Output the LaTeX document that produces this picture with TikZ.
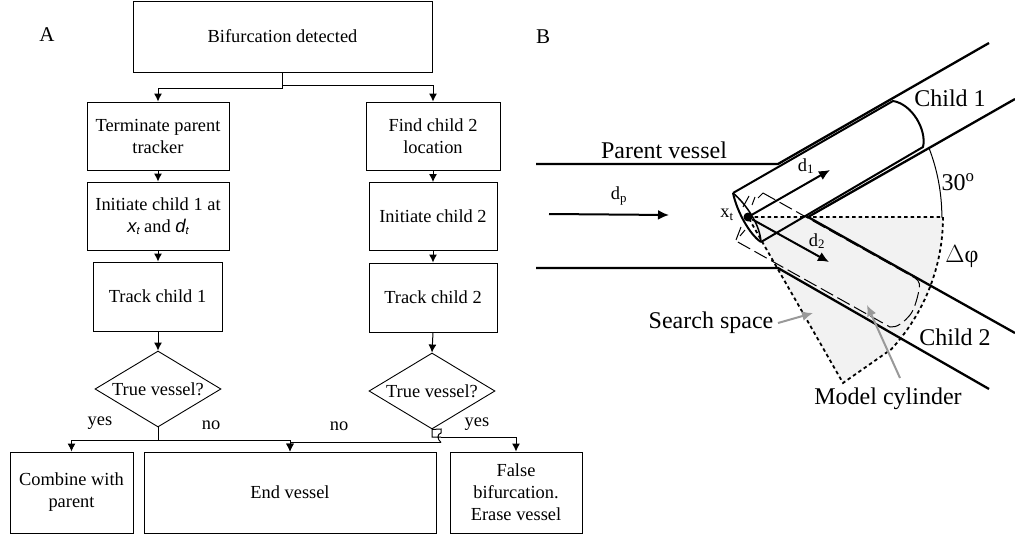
\documentclass[tikz,border=0pt]{standalone}
\usepackage{fontspec}
\setmainfont{Liberation Serif}
\newfontfamily\arialfont{Liberation Sans}
\usetikzlibrary{shapes.geometric,arrows.meta}
\tikzset{
  flowbox/.style={draw,line width=0.9pt,inner sep=0pt,align=center,font=\fontsize{18.4}{22}\selectfont},
  flowtest/.style={draw,diamond,shape aspect=1.65,line width=0.9pt,inner sep=0pt,minimum width=126pt,minimum height=76pt,font=\fontsize{18.4}{22}\selectfont},
  flowlabel/.style={inner sep=0pt,font=\fontsize{18.4}{22}\selectfont},
  flowline/.style={line width=1pt},
  flowarrow/.style={line width=1pt,-{Latex[length=8pt,width=8pt]}},
  panellabel/.style={inner sep=0pt,font=\fontsize{21}{24}\selectfont},
  vessellabel/.style={inner sep=0pt,font=\fontsize{24}{28}\selectfont},
  vecline/.style={line width=2pt,-{Latex[length=11pt,width=10pt]}},
  wall/.style={line width=2.3pt},
  dotline/.style={line width=1.8pt,dash pattern=on 3.5pt off 3pt},
  modelline/.style={line width=1pt,dash pattern=on 14pt off 5pt},
  pointer/.style={line width=2pt,color=gray!80,-{Latex[length=11pt,width=10pt]}}
}
\newcommand{\xsub}[1]{{\arialfont\itshape #1\raisebox{-0.25ex}{\fontsize{11}{11}\selectfont t}}}
\begin{document}
\begin{tikzpicture}[x=1pt,y=-1pt]
\useasboundingbox (0,0) rectangle (1015,535);
%A
\node[panellabel] (labelA) at (47,35) {A};
\node[flowbox,minimum width=299pt,minimum height=71pt] (detected) at (282.5,36.5) {Bifurcation detected};
\node[flowbox,minimum width=142pt,minimum height=68pt] (terminate) at (158,136) {Terminate parent\\tracker};
\node[flowbox,minimum width=142pt,minimum height=68pt] (initone) at (158,216) {Initiate child 1 at\\\xsub{x} and \xsub{d}};
\node[flowbox,minimum width=129pt,minimum height=69pt] (trackone) at (157.5,296.5) {Track child 1};
\node[flowtest] (testone) at (158,389) {True vessel?};
\node[flowbox,minimum width=134pt,minimum height=68pt] (findtwo) at (433,136) {Find child 2\\location};
\node[flowbox,minimum width=128pt,minimum height=68pt] (inittwo) at (433,216.5) {Initiate child 2};
\node[flowbox,minimum width=128pt,minimum height=69pt] (tracktwo) at (433,297.5) {Track child 2};
\node[flowtest] (testtwo) at (432,391) {True vessel?};
\node[flowbox,minimum width=123pt,minimum height=81pt] (combine) at (71.5,492.5) {Combine with\\parent};
\node[flowbox,minimum width=292pt,minimum height=81pt] (endvessel) at (290,492.5) {End vessel};
\node[flowbox,minimum width=132pt,minimum height=81pt] (falsebif) at (516,492.5) {False\\bifurcation.\\Erase vessel};
\node[flowlabel] (yesone) at (100,423) {yes};
\node[flowlabel] (noone) at (211,425) {no};
\node[flowlabel] (notwo) at (339,426) {no};
\node[flowlabel] (yestwo) at (477,424) {yes};
\coordinate (split) at (detected.south);
\draw[flowarrow] (split) -- ++(0,16) -| (terminate.north);
\draw[flowarrow] (split) -- ++(0,13) -| (findtwo.north);
\draw[flowarrow] (terminate) -- (initone);
\draw[flowarrow] (initone.south) -- (initone.south |- trackone.north);
\draw[flowarrow] (trackone.south -| testone.north) -- (testone.north);
\draw[flowarrow] (findtwo) -- (inittwo);
\draw[flowarrow] (inittwo) -- (tracktwo);
\draw[flowarrow] (tracktwo.south) -- (testtwo.north);
\coordinate (joinone) at (158,440);
\draw[flowline] (testone.south) -- (joinone);
\draw[flowarrow] (joinone) -| (combine.north);
\draw[flowarrow] (joinone) -| (endvessel.north);
\coordinate (hop) at (441,442.5);
\coordinate (hopout) at (441,437);
\draw[flowline] (testtwo.south) -- (432,437) -- (hopout) (testtwo.south) -- (441,429) -- (441,433) .. controls (437,434) and (437,439) .. (hop);
\draw[flowarrow] (hop) -| (endvessel.north);
\draw[flowarrow] (hopout) -| (falsebif.north);
%B
\node[panellabel] (labelB) at (543,37) {B};
\coordinate (xt) at (748,217);
\coordinate (fork) at (808,217);
\coordinate (partop) at (778,164);
\coordinate (parbot) at (778,268);
\coordinate (corner) at (843,383);
\fill[color=black!5] (xt) -- (943,217) arc[start angle=0,end angle=42.7,radius=195] -- (corner) -- cycle;
\draw[dotline] (xt) -- (943,217) arc[start angle=0,end angle=42.7,radius=195] -- (corner) -- cycle;
\draw[line width=1pt] (929,148) arc[start angle=-21,end angle=0,radius=194];
\draw[wall] (536,164) -- (partop) -- (989,43);
\draw[wall] (536,268) -- (parbot) -- (989,389);
\draw[wall] (1015,99) -- (fork) -- (1015,333);
%cylinder
\draw[line width=2pt] (733,193) -- (893,101) .. controls (912,104) and (927,130) .. (923,147) -- (761,242);
\draw[line width=2pt] (733,193) .. controls (737,212) and (750,235) .. (761,242);
\draw[line width=1.5pt] (733,193) .. controls (747,205) and (760,225) .. (761,242);
%model
\draw[modelline] (763,193) -- (915,278) .. controls (920,281) and (920,286) .. (919,290) .. controls (917,300) and (914,310) .. (910,315) .. controls (904,322) and (897,328) .. (890,327) -- (736,241);
\draw[line width=1pt] (763,193) -- (758,198) (755,197) -- (752,205) (749,196) -- (743,207);
\draw[line width=1pt] (741,227) -- (736,240) (745,230) -- (740,236);
\node[fill=black,circle,inner sep=0pt,minimum size=9pt] (xtdot) at (xt) {};
\coordinate (dpstart) at (549,214);
\coordinate (dpend) at (669,215);
\coordinate (donetip) at (830,170);
\coordinate (dtwotip) at (829,262);
\draw[vecline] (dpstart) -- (dpend);
\draw[vecline] (xtdot) -- (donetip);
\draw[vecline] (xtdot) -- (dtwotip);
\node[vessellabel] (parentlabel) at (664,150) {Parent vessel};
\node[flowlabel] (dplabel) at (619,196) {d\textsubscript{p}};
\node[flowlabel] (xtlabel) at (727,215) {x\textsubscript{t}};
\node[flowlabel] (donelabel) at (806,166) {d\textsubscript{1}};
\node[flowlabel] (dtwolabel) at (817,241) {d\textsubscript{2}};
\node[vessellabel] (childone) at (950,98) {Child 1};
\node[vessellabel] (childtwo) at (955,337) {Child 2};
\node[vessellabel] (anglelabel) at (958,182) {30\textsuperscript{o}};
\node[vessellabel] (deltalabel) at (962,257) {$\Delta$φ};
\node[vessellabel] (searchlabel) at (711,323) {Search space};
\node[vessellabel] (modellabel) at (888,399) {Model cylinder};
\coordinate (searchtail) at (778,323);
\coordinate (searchtip) at (813,313);
\coordinate (modeltail) at (900,378);
\coordinate (modeltip) at (867,305);
\draw[pointer] (searchtail) -- (searchtip);
\draw[pointer] (modeltail) -- (modeltip);
\end{tikzpicture}
\end{document}
